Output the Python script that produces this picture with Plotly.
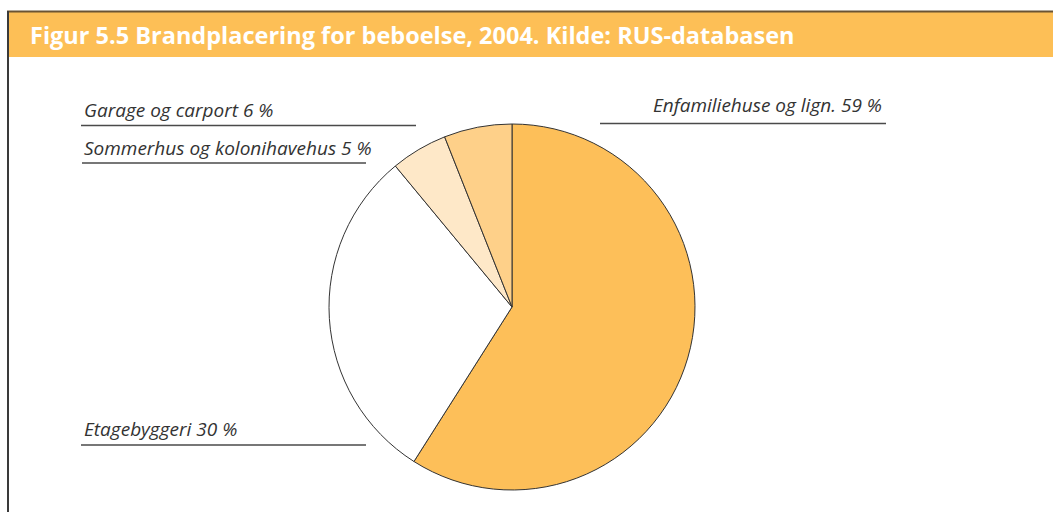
import plotly.graph_objects as go

categories = ["Enfamiliehuse og lign.", "Etagebyggeri", "Sommerhus og kolonihavehus", "Garage og carport"]
values = [59, 30, 5, 6]
colors = ["#FDBF59", "#FFFFFF", "#FEE8C8", "#FED089"]

W, H = 1053, 512

def px(x):
    return x / W

def py(y):
    return 1 - y / H

cx, cy, r = 512, 307, 183

fig = go.Figure(go.Pie(
    labels=categories,
    values=values,
    sort=False,
    direction="clockwise",
    rotation=0,
    marker=dict(colors=colors, line=dict(color="#333333", width=1)),
    textinfo="none",
    hoverinfo="label+percent",
    domain=dict(x=[px(cx - r), px(cx + r)], y=[py(cy + r), py(cy - r)]),
    showlegend=False,
))

shapes = [
    dict(type="rect", xref="paper", yref="paper", x0=px(8), x1=1, y0=py(57), y1=py(12),
         fillcolor="#FDBF56", line=dict(width=0), layer="below"),
    dict(type="line", xref="paper", yref="paper", x0=px(7), x1=1, y0=py(11.5), y1=py(11.5),
         line=dict(color="#6B5433", width=2)),
    dict(type="line", xref="paper", yref="paper", x0=px(8), x1=px(8), y0=0, y1=py(11),
         line=dict(color="#3A3A3A", width=2)),
]

label_pos = {
    "Garage og carport": (82, 110, "left", 81, 416, 125.5),
    "Sommerhus og kolonihavehus": (82, 148, "left", 82, 366, 163),
    "Enfamiliehuse og lign.": (884, 105, "right", 600, 886, 123.5),
    "Etagebyggeri": (82, 429, "left", 81, 366, 445),
}

annotations = [
    dict(text="Figur 5.5 Brandplacering for beboelse, 2004. Kilde: RUS-databasen",
         xref="paper", yref="paper", x=px(28), y=py(35), xanchor="left", yanchor="middle",
         showarrow=False, font=dict(family="Open Sans", size=23.5, color="#FFFFFF", weight="bold")),
]

for cat, val in zip(categories, values):
    tx, ty, anc, ux0, ux1, uy = label_pos[cat]
    annotations.append(dict(
        text=f"<i>{cat} {val} %</i>", xref="paper", yref="paper",
        x=px(tx), y=py(ty), xanchor=anc, yanchor="middle", showarrow=False,
        font=dict(family="Open Sans", size=19, color="#333333")))
    shapes.append(dict(type="line", xref="paper", yref="paper", x0=px(ux0), x1=px(ux1),
                       y0=py(uy), y1=py(uy), line=dict(color="#4A4A4A", width=1.5)))

fig.update_layout(
    width=W, height=H,
    margin=dict(l=0, r=0, t=0, b=0),
    paper_bgcolor="#FFFFFF",
    plot_bgcolor="#FFFFFF",
    shapes=shapes,
    annotations=annotations,
)

fig.write_html(
    "out.html",
    config={"displayModeBar": False},
    post_script="document.body.style.margin='0';document.body.style.overflow='hidden';",
)
